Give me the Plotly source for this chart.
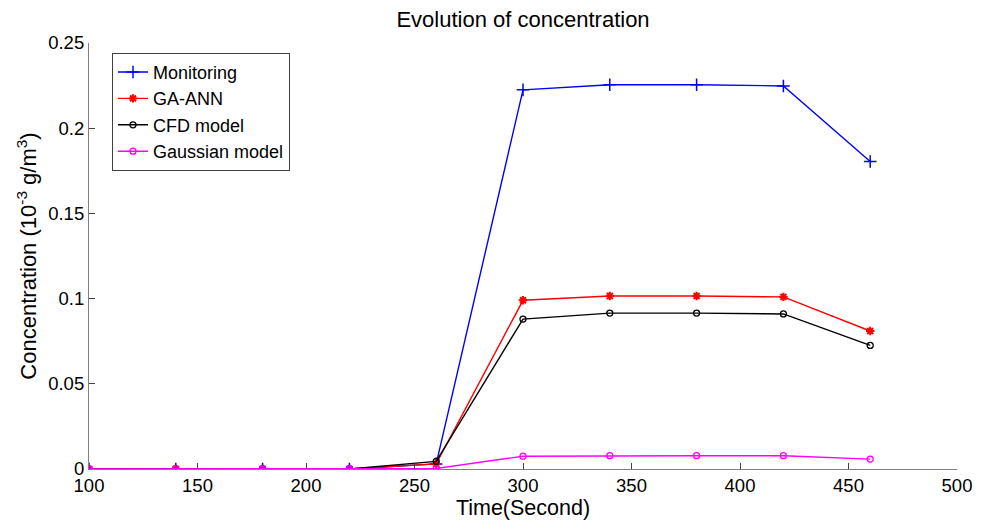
import plotly.graph_objects as go

time_s = [100, 140, 180, 220, 260, 300, 340, 380, 420, 460]
monitoring = [0, 0, 0, 0, 0.003, 0.2225, 0.2255, 0.2255, 0.2248, 0.1805]
ga_ann = [0, 0, 0, 0, 0.003, 0.0990, 0.1015, 0.1015, 0.1010, 0.0810]
cfd = [0, 0, 0, 0, 0.0045, 0.0880, 0.0915, 0.0915, 0.0910, 0.0725]
gaussian = [0, 0, 0, 0, 0.0003, 0.0075, 0.0078, 0.0078, 0.0078, 0.0058]

x_ticks = [100, 150, 200, 250, 300, 350, 400, 450, 500]
y_ticks = [0, 0.05, 0.1, 0.15, 0.2, 0.25]
y_tick_labels = ["0", "0.05", "0.1", "0.15", "0.2", "0.25"]

FONT = "Liberation Sans, Arial, sans-serif"

fig = go.Figure()
series = [
    ("Monitoring", monitoring, "#0000FF", dict(symbol="cross-thin", size=9, line=dict(width=1.5, color="#0000FF"))),
    ("GA-ANN", ga_ann, "#FF0000", dict(symbol="asterisk", size=7, color="#FF0000", line=dict(width=2, color="#FF0000"))),
    ("CFD model", cfd, "#000000", dict(symbol="circle-open", size=6, line=dict(width=1.3, color="#000000"))),
    ("Gaussian model", gaussian, "#FF00FF", dict(symbol="circle-open", size=6, line=dict(width=1.3, color="#FF00FF"))),
]
for name, vals, col, mk in series:
    fig.add_trace(go.Scatter(
        x=time_s, y=vals, name=name, mode="lines+markers",
        line=dict(color=col, width=1.4), marker=mk,
    ))

axis_common = dict(
    showline=True, linecolor="#808080", linewidth=1.2, mirror=False,
    ticks="inside", ticklen=6, tickcolor="#404040", tickwidth=1,
    showgrid=False, zeroline=False,
    tickfont=dict(family=FONT, size=18.5, color="#000000"),
)

fig.update_layout(
    width=981, height=516,
    margin=dict(l=81, r=32, t=35, b=48),
    paper_bgcolor="white", plot_bgcolor="white",
    title=dict(text="Evolution of concentration", x=0.525, xanchor="center",
               yref="container", y=1 - 11 / 516, yanchor="middle",
               font=dict(family=FONT, size=22, color="#000000")),
    xaxis=dict(range=[100, 500], tickvals=x_ticks, ticktext=[str(v) for v in x_ticks],
               title=dict(text="Time(Second)", font=dict(family=FONT, size=21.5, color="#000000"), standoff=1),
               **axis_common),
    yaxis=dict(range=[0, 0.25], tickvals=y_ticks, ticktext=y_tick_labels,
               title=dict(text="Concentration (10<sup>-3</sup> g/m<sup>3</sup>)",
                          font=dict(family=FONT, size=22, color="#000000"), standoff=5),
               **axis_common),
    legend=dict(x=0.0265, y=0.977, xanchor="left", yanchor="top",
                bgcolor="white", bordercolor="#404040", borderwidth=1,
                font=dict(family=FONT, size=18, color="#000000"),
                tracegroupgap=0),
    showlegend=True,
)

fig.write_html("out.html")
